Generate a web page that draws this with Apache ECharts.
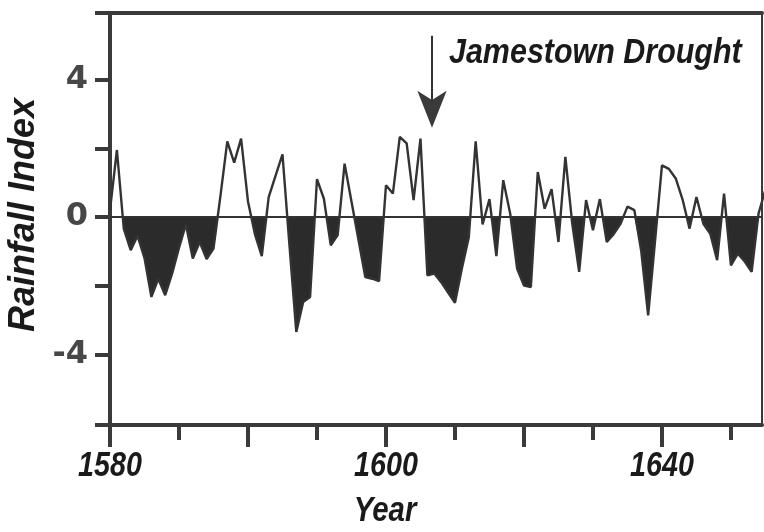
<!DOCTYPE html>
<html>
<head>
<meta charset="utf-8">
<script src="https://cdn.jsdelivr.net/npm/echarts@6/dist/echarts.min.js"></script>
<style>
html,body{margin:0;padding:0;background:#fff;}
#chart{width:764px;height:532px;}
</style>
</head>
<body>
<div id="chart"></div>
<script>
// ---- data ----
const firstYear = 1580;
const rainfall = [
  0.2, 1.95, -0.35, -0.97, -0.55, -1.2, -2.33, -1.8, -2.28, -1.65,
  -0.9, -0.22, -1.21, -0.73, -1.23, -0.92, 0.6, 2.2, 1.58, 2.28,
  0.45, -0.5, -1.14, 0.58, 1.2, 1.82, -0.8, -3.35, -2.48, -2.33,
  1.1, 0.53, -0.83, -0.53, 1.55, 0.45, -0.65, -1.75, -1.8, -1.87,
  0.92, 0.68, 2.33, 2.14, 0.49, 2.28, -1.7, -1.65, -1.9, -2.2,
  -2.5, -1.5, -0.6, 2.2, -0.22, 0.52, -1.14, 1.07, 0.1, -1.5,
  -2.0, -2.04, 1.31, 0.24, 0.81, -0.73, 1.75, -0.2, -1.6, 0.49,
  -0.39, 0.52, -0.73, -0.5, -0.2, 0.3, 0.2, -1.0, -2.87, -0.7,
  1.5, 1.4, 1.12, 0.5, -0.34, 0.58, -0.2, -0.49, -1.26, 0.68,
  -1.41, -1.07, -1.3, -1.6, 0.1, 0.8
];
const years = rainfall.map((_, i) => firstYear + i);

const xMajorTicks = [1580, 1600, 1620, 1640, 1660];
const xMinorTicks = [1590, 1610, 1630, 1650, 1670];
const xLabelValues = [1580, 1620, 1660];
const xLabelText = ['1580', '1600', '1640'];
const yTickValues = [-6.06, -4, -2, 0, 2, 4, 5.94];
const yLabelValues = [-4, 0, 4];
const annotationText = 'Jamestown Drought';
const arrowYear = 1626.67;
const arrowTop = 5.28;
const arrowTip = 2.6;

// ---- build series ----
const linePts = years.map((y, i) => [y, rainfall[i]]);
const areaPts = [];
for (let i = 0; i < linePts.length; i++) {
  const [x, v] = linePts[i];
  if (i > 0) {
    const [px, pv] = linePts[i - 1];
    if ((pv < 0 && v > 0) || (pv > 0 && v < 0)) {
      const xc = px + (x - px) * (pv / (pv - v));
      areaPts.push([xc, 0]);
    }
  }
  areaPts.push([x, Math.min(v, 0)]);
}

const axisColor = '#3a3a3a';
const X_MIN = 1580, X_MAX = 1674.5, Y_MIN = -6.06, Y_MAX = 5.94;
const narrowFont = "italic bold 35px 'Liberation Sans', Arial, sans-serif";
const gridRect = {left: 110, top: 13, right: 2, bottom: 107};

const chart = echarts.init(document.getElementById('chart'), null, {renderer: 'canvas'});
chart.setOption({
  animation: false,
  backgroundColor: '#fff',
  grid: [
    Object.assign({show: false}, gridRect),
    Object.assign({show: false}, gridRect)
  ],
  xAxis: [
    {
      gridIndex: 0, type: 'value', min: X_MIN, max: X_MAX, position: 'bottom',
      axisLine: {show: true, onZero: false, lineStyle: {color: axisColor, width: 4}},
      axisTick: {show: true, customValues: xMajorTicks, length: 22, lineStyle: {color: axisColor, width: 4}},
      axisLabel: {show: false},
      splitLine: {show: false}
    },
    {
      gridIndex: 0, type: 'value', min: X_MIN, max: X_MAX, position: 'top',
      axisLine: {show: true, onZero: false, lineStyle: {color: axisColor, width: 4}},
      axisTick: {show: false}, axisLabel: {show: false}, splitLine: {show: false}
    },
    {
      gridIndex: 1, type: 'value', min: X_MIN, max: X_MAX, position: 'bottom',
      axisLine: {show: false, onZero: false},
      axisTick: {show: true, customValues: xMinorTicks, length: 15, lineStyle: {color: axisColor, width: 4}},
      axisLabel: {show: false}, splitLine: {show: false}
    }
  ],
  yAxis: [
    {
      gridIndex: 0, type: 'value', min: Y_MIN, max: Y_MAX, position: 'left',
      axisLine: {show: true, onZero: false, lineStyle: {color: axisColor, width: 4}},
      axisTick: {show: true, customValues: yTickValues, length: 15, lineStyle: {color: axisColor, width: 4}},
      axisLabel: {
        show: true, customValues: yLabelValues, margin: 22,
        formatter: v => String(v),
        fontFamily: "'DejaVu Sans', sans-serif", fontWeight: 'bold', fontSize: 32, color: '#474747'
      },
      splitLine: {show: false}
    },
    {
      gridIndex: 0, type: 'value', min: Y_MIN, max: Y_MAX, position: 'right',
      axisLine: {show: true, onZero: false, lineStyle: {color: axisColor, width: 2}},
      axisTick: {show: false}, axisLabel: {show: false}, splitLine: {show: false}
    },
    {
      gridIndex: 1, type: 'value', min: Y_MIN, max: Y_MAX, show: false
    }
  ],
  series: [
    {
      type: 'line', xAxisIndex: 0, yAxisIndex: 0, data: areaPts, symbol: 'none', silent: true,
      lineStyle: {width: 0}, areaStyle: {color: '#2b2b2b', opacity: 1}, z: 2
    },
    {
      type: 'line', xAxisIndex: 0, yAxisIndex: 0, data: linePts, symbol: 'none', silent: true,
      lineStyle: {color: '#333', width: 2.4}, z: 3,
      markLine: {
        silent: true, symbol: ['none', 'none'], label: {show: false},
        lineStyle: {color: '#333', width: 2, type: 'solid'},
        data: [
          {yAxis: 0},
          [{coord: [arrowYear, arrowTop]}, {coord: [arrowYear, arrowTip + 0.4]}]
        ]
      },
      markPoint: {
        silent: true, symbol: 'arrow', symbolRotate: 180, symbolSize: [22, 37],
        itemStyle: {color: '#3a3a3a'}, label: {show: false},
        data: [{coord: [arrowYear, arrowTip]}]
      }
    }
  ]
});

// text drawn as graphics so it can be condensed like the original lettering
const graphics = [
  {
    type: 'text', x: 24, y: 215, rotation: Math.PI / 2,
    style: {
      text: 'Rainfall Index', align: 'center', verticalAlign: 'middle',
      font: "italic bold 36px 'Liberation Sans', Arial, sans-serif", fill: '#1a1a1a'
    }
  },
  {
    type: 'text', x: 385, y: 511, scaleX: 0.84,
    style: {text: 'Year', align: 'center', verticalAlign: 'middle', font: narrowFont, fill: '#1a1a1a'}
  },
  {
    type: 'text', x: 449, y: 53, scaleX: 0.87,
    style: {text: annotationText, align: 'left', verticalAlign: 'middle', font: narrowFont, fill: '#1a1a1a'}
  }
];
xLabelValues.forEach((v, i) => {
  const px = chart.convertToPixel({xAxisIndex: 0}, v);
  graphics.push({
    type: 'text', x: px, y: 449, scaleX: 0.82,
    style: {text: xLabelText[i], align: 'center', verticalAlign: 'top', font: narrowFont, fill: '#1a1a1a'}
  });
});
chart.setOption({graphic: graphics});
</script>
</body>
</html>
